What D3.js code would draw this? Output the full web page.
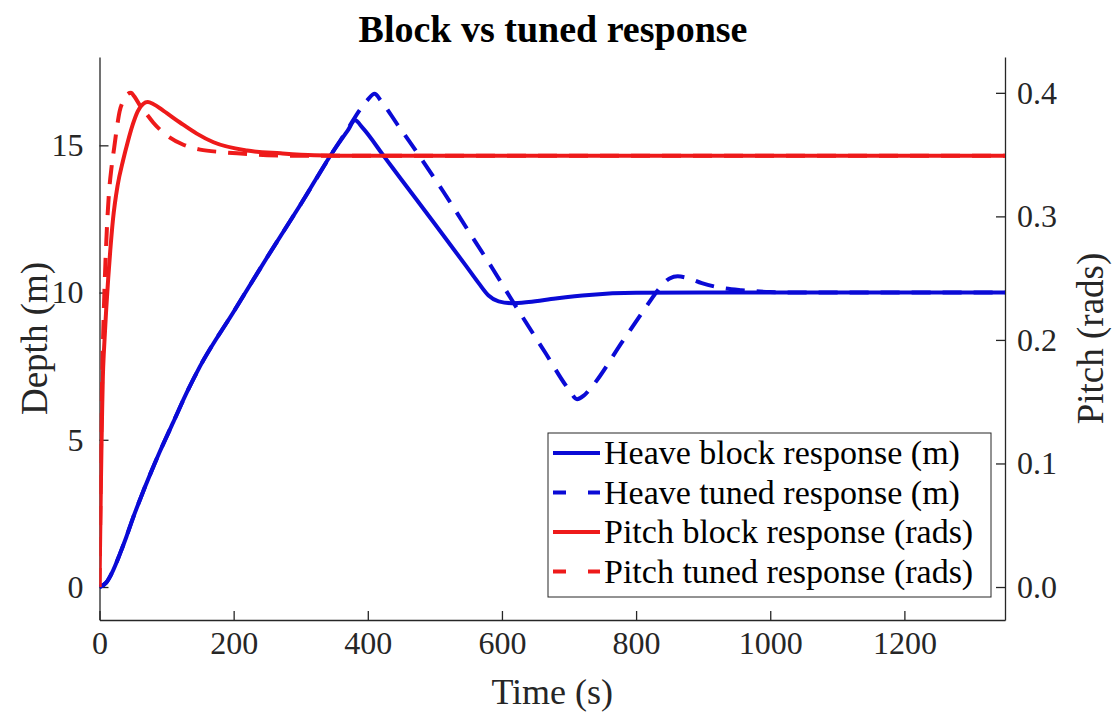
<!DOCTYPE html>
<html>
<head>
<meta charset="utf-8">
<script src="https://cdn.jsdelivr.net/npm/d3@7"></script>
<style>
  html, body { margin: 0; padding: 0; background: #fff; }
  svg text { font-family: "Liberation Serif", "Times New Roman", serif; }
</style>
</head>
<body>
<svg id="chart" width="1114" height="716"></svg>
<script>
// Heave (depth, m) responses
const heaveBlockTime  = [0,10,20,30,40,50,60,75,90,110,130,150,200,250,300,350,370,381,392,425,450,500,547,565,580,595,615,640,680,730,800,900,1000,1350];
const heaveBlockDepth = [0,0.15,0.55,1.1,1.7,2.35,2.95,3.8,4.6,5.6,6.6,7.5,9.35,11.2,13.0,14.85,15.5,15.85,15.6,14.6,13.84,12.33,10.89,10.33,9.9,9.7,9.64,9.68,9.8,9.92,9.99,10.0,10.0,10.0];

const heaveTunedTime  = [0,10,20,30,40,50,60,75,90,110,130,150,200,250,300,350,370,388,400,410,420,445,463,481,512,547,585,612,664,700,712,722,734,780,813,835,850,862,876,898,930,957,1000,1050,1350];
const heaveTunedDepth = [0,0.15,0.55,1.1,1.7,2.35,2.95,3.8,4.6,5.6,6.6,7.5,9.35,11.2,13.0,14.85,15.55,16.2,16.55,16.75,16.5,15.68,15.1,14.5,13.45,12.2,10.85,9.85,7.98,6.7,6.38,6.5,6.8,8.35,9.45,10.15,10.48,10.55,10.5,10.32,10.15,10.08,10.02,10.0,10.0];

// Pitch (rads) responses
const pitchBlockTime  = [0,1,2,3,4,5,6.5,8,10,13,16,20,27,35,42,50,57,65,72,80,95,120,145,170,220,270,320,400,1350];
const pitchBlockAngle = [0,0.04,0.08,0.115,0.145,0.17,0.19,0.205,0.225,0.25,0.272,0.297,0.325,0.345,0.36,0.375,0.385,0.391,0.3925,0.391,0.3856,0.376,0.367,0.36,0.3533,0.351,0.3495,0.349,0.349];

const pitchTunedTime  = [0,1,2,3,4,6,8,11,14,18,22,26,30,36,42,47,52,60,70,80,97,125,150,183,205,250,300,400,1350];
const pitchTunedAngle = [0,0.05,0.1,0.14,0.17,0.215,0.25,0.29,0.318,0.34,0.356,0.372,0.385,0.394,0.399,0.4,0.397,0.39,0.383,0.376,0.367,0.358,0.354,0.352,0.351,0.3495,0.349,0.349,0.349];

// Axis ticks
const timeTicks  = [0,200,400,600,800,1000,1200];
const depthTicks = [0,5,10,15];
const pitchTicks = [0,0.1,0.2,0.3,0.4];

const seriesNames = ["Heave block response (m)", "Heave tuned response (m)",
                     "Pitch block response (rads)", "Pitch tuned response (rads)"];

const BLUE = "#0a0ad6", RED = "#ee1a1a", AXIS = "#262626";

const svg = d3.select("#chart");
const plot = { left: 99.5, right: 1005, top: 57, bottom: 620 };

const x  = d3.scaleLinear().domain([0, 1350]).range([plot.left, plot.right]);
const yL = d3.scaleLinear().domain([-1.12, 18]).range([plot.bottom, plot.top]);
const yR = d3.scaleLinear().domain([-0.0267, 0.429]).range([plot.bottom, plot.top]);

svg.append("defs").append("clipPath").attr("id", "plotClip")
  .append("rect").attr("x", plot.left).attr("y", plot.top)
  .attr("width", plot.right - plot.left).attr("height", plot.bottom - plot.top);

// Axes (ticks point inward)
function styleAxis(g, size) {
  g.selectAll(".domain").attr("stroke", AXIS).attr("stroke-width", 1.3);
  g.selectAll(".tick line").attr("stroke", AXIS).attr("stroke-width", 1.3);
  g.selectAll(".tick text").attr("fill", AXIS).style("font-size", size + "px");
}

const gx = svg.append("g").attr("transform", `translate(0,${plot.bottom})`)
  .call(d3.axisBottom(x).tickValues(timeTicks).tickSizeInner(-9).tickSizeOuter(0).tickPadding(11).tickFormat(d3.format("d")));
styleAxis(gx, 32);

const gl = svg.append("g").attr("transform", `translate(${plot.left},0)`)
  .call(d3.axisLeft(yL).tickValues(depthTicks).tickSizeInner(-9).tickSizeOuter(0).tickPadding(16).tickFormat(d3.format("d")));
styleAxis(gl, 32);

const gr = svg.append("g").attr("transform", `translate(${plot.right},0)`)
  .call(d3.axisRight(yR).tickValues(pitchTicks).tickSizeInner(-9).tickSizeOuter(0).tickPadding(12).tickFormat(d3.format(".1f")));
styleAxis(gr, 32);

// Lines
const lines = svg.append("g").attr("clip-path", "url(#plotClip)");

function drawLine(times, values, yScale, color, dash) {
  const pts = times.map((t, i) => [t, values[i]]);
  const gen = d3.line().x(d => x(d[0])).y(d => yScale(d[1])).curve(d3.curveMonotoneX);
  lines.append("path").datum(pts)
    .attr("d", gen).attr("fill", "none")
    .attr("stroke", color).attr("stroke-width", 4)
    .attr("stroke-linejoin", "round")
    .attr("stroke-dasharray", dash || null);
}

drawLine(heaveBlockTime, heaveBlockDepth, yL, BLUE, null);
drawLine(heaveTunedTime, heaveTunedDepth, yL, BLUE, "19,12");
drawLine(pitchBlockTime, pitchBlockAngle, yR, RED, null);
drawLine(pitchTunedTime, pitchTunedAngle, yR, RED, "19,12");

// Title and axis labels
svg.append("text").attr("x", 553).attr("y", 42).attr("text-anchor", "middle")
  .style("font-size", "38px").style("font-weight", "bold").attr("fill", "#000")
  .text("Block vs tuned response");

svg.append("text").attr("x", (plot.left + plot.right) / 2).attr("y", 704)
  .attr("text-anchor", "middle").style("font-size", "36px").attr("fill", AXIS)
  .text("Time (s)");

svg.append("text").attr("transform", `translate(47,${(plot.top + plot.bottom) / 2}) rotate(-90)`)
  .attr("text-anchor", "middle").style("font-size", "37px").attr("fill", AXIS)
  .text("Depth (m)");

svg.append("text").attr("transform", `translate(1103,${(plot.top + plot.bottom) / 2}) rotate(-90)`)
  .attr("text-anchor", "middle").style("font-size", "37px").attr("fill", AXIS)
  .text("Pitch (rads)");

// Legend
const legend = svg.append("g");
legend.append("rect").attr("x", 548).attr("y", 433).attr("width", 443).attr("height", 164)
  .attr("fill", "#fff").attr("stroke", AXIS).attr("stroke-width", 1);

const legendStyles = [
  { color: BLUE, dash: null }, { color: BLUE, dash: "13,22" },
  { color: RED,  dash: null }, { color: RED,  dash: "13,22" }
];
seriesNames.forEach((name, i) => {
  const cy = 453 + i * 39.5;
  legend.append("line").attr("x1", 553).attr("x2", 600).attr("y1", cy).attr("y2", cy)
    .attr("stroke", legendStyles[i].color).attr("stroke-width", 4)
    .attr("stroke-dasharray", legendStyles[i].dash);
  legend.append("text").attr("x", 604).attr("y", cy + 11)
    .style("font-size", "34px").attr("fill", "#000").text(name);
});
</script>
</body>
</html>
